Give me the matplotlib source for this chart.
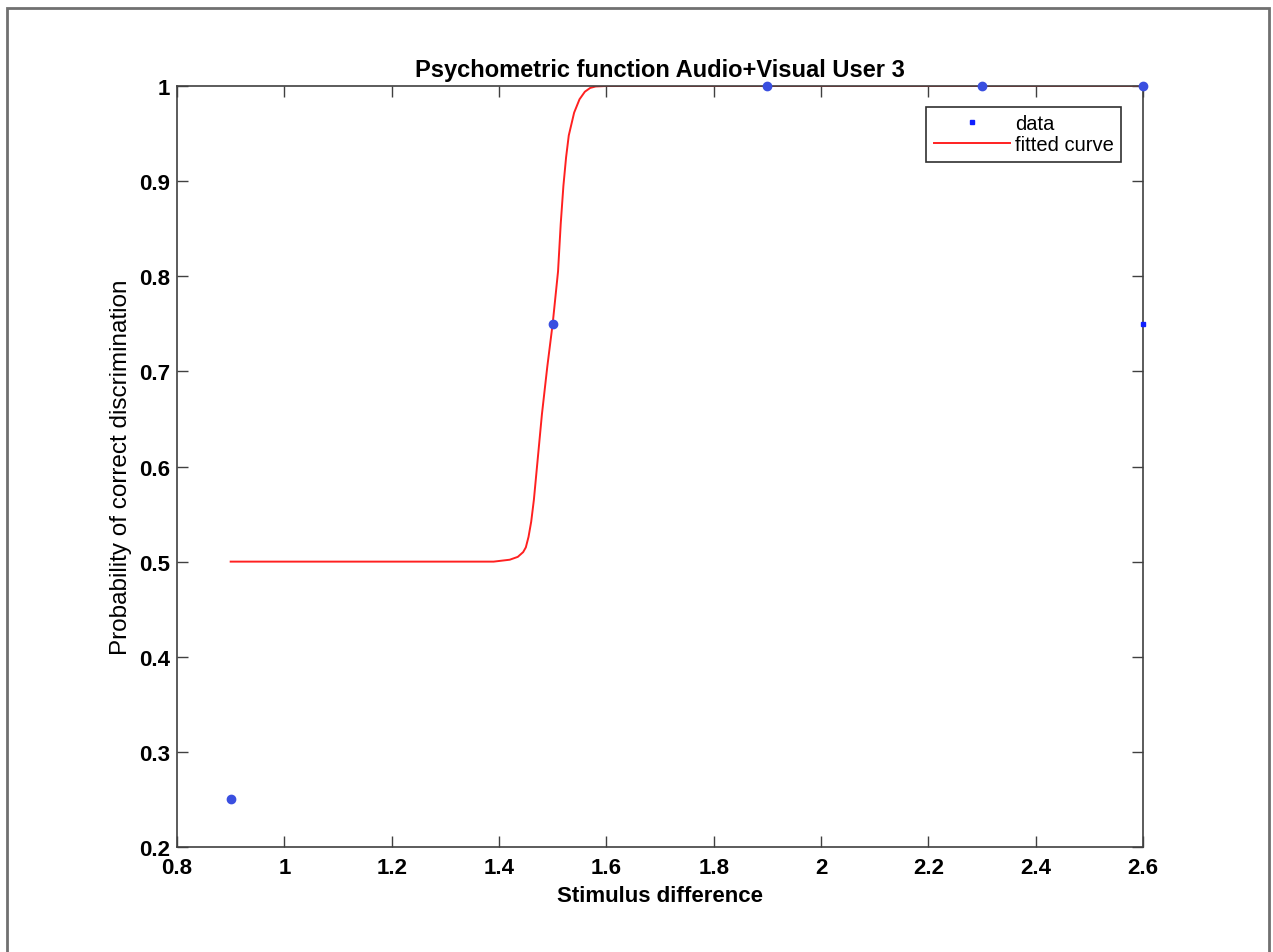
import numpy as np
import matplotlib
matplotlib.use('Agg')
import matplotlib.pyplot as plt
from matplotlib.patches import Rectangle
from matplotlib.lines import Line2D

# measured points
stim = [0.9, 1.5, 1.9, 2.3, 2.6]
prob = [0.25, 0.75, 1.0, 1.0, 1.0]

# extra small point at the right edge
extra_x = [2.6]
extra_y = [0.75]

# fitted curve
fit_x = [0.90, 1.39, 1.42, 1.435, 1.445, 1.45, 1.455, 1.46, 1.465, 1.47,
         1.48, 1.49, 1.50, 1.51, 1.515, 1.52, 1.525, 1.53, 1.54, 1.55,
         1.56, 1.57, 1.58, 1.60, 2.60]
fit_y = [0.500, 0.500, 0.502, 0.505, 0.510, 0.515, 0.526, 0.542, 0.565, 0.595,
         0.655, 0.705, 0.750, 0.805, 0.855, 0.895, 0.925, 0.948, 0.972, 0.986,
         0.994, 0.998, 0.9995, 1.000, 1.000]

xticks = [0.8, 1.0, 1.2, 1.4, 1.6, 1.8, 2.0, 2.2, 2.4, 2.6]
xtick_labels = ['0.8', '1', '1.2', '1.4', '1.6', '1.8', '2', '2.2', '2.4', '2.6']
yticks = [0.2, 0.3, 0.4, 0.5, 0.6, 0.7, 0.8, 0.9, 1.0]
ytick_labels = ['0.2', '0.3', '0.4', '0.5', '0.6', '0.7', '0.8', '0.9', '1']

plt.rcParams['font.family'] = ['Liberation Sans', 'DejaVu Sans']

fig = plt.figure(figsize=(12.73, 9.53), dpi=100)
# outer frame of the exported figure
fig.patches.append(Rectangle((7 / 1273, -0.05), (1269 - 7) / 1273, 1.05 - 9 / 953,
                             transform=fig.transFigure, fill=False,
                             edgecolor='#707070', linewidth=2))

ax = fig.add_axes([177 / 1273, (953 - 848) / 953, (1143 - 177) / 1273, (848 - 87) / 953])

ax.plot(stim, prob, linestyle='none', marker='o', markersize=6,
        color='#3a4fe0', clip_on=False, zorder=3)
ax.plot(extra_x, extra_y, linestyle='none', marker='s', markersize=2.5,
        color='#1020ff', clip_on=False, zorder=3)
ax.plot(fit_x, fit_y, color='#ff2020', linewidth=1.4)

ax.set_xlim(0.8, 2.6)
ax.set_ylim(0.2, 1.0)
ax.set_xticks(xticks)
ax.set_xticklabels(xtick_labels, fontsize=16, fontweight='bold')
ax.set_yticks(yticks)
ax.set_yticklabels(ytick_labels, fontsize=16, fontweight='bold')
ax.tick_params(axis='x', pad=7)
ax.tick_params(axis='y', pad=5)
ax.tick_params(direction='in', length=8, width=1, top=True, right=True,
               color='#404040')
for s in ax.spines.values():
    s.set_color('#404040')
    s.set_linewidth(1.2)

ax.set_title('Psychometric function Audio+Visual User 3', fontsize=17,
             fontweight='bold', pad=7)
ax.set_xlabel('Stimulus difference', fontsize=16, fontweight='bold', labelpad=5)
ax.set_ylabel('Probability of correct discrimination', fontsize=17.5, labelpad=5)

# legend: small dot for data, as in the original
handles = [Line2D([], [], linestyle='none', marker='s', markersize=2.5, color='#1020ff'),
           Line2D([], [], color='#ff2020', linewidth=1.4)]
leg = ax.legend(handles, ['data', 'fitted curve'], loc='upper right',
                bbox_to_anchor=((1121 - 177) / 966, (848 - 108) / 761), fontsize=14.5,
                frameon=True, fancybox=False, framealpha=1, borderpad=0.35,
                labelspacing=0.12, handlelength=3.8, handletextpad=0.25,
                borderaxespad=0)
leg.get_frame().set_edgecolor('#303030')
leg.get_frame().set_linewidth(1.2)

fig.savefig('out.png', dpi=100)
